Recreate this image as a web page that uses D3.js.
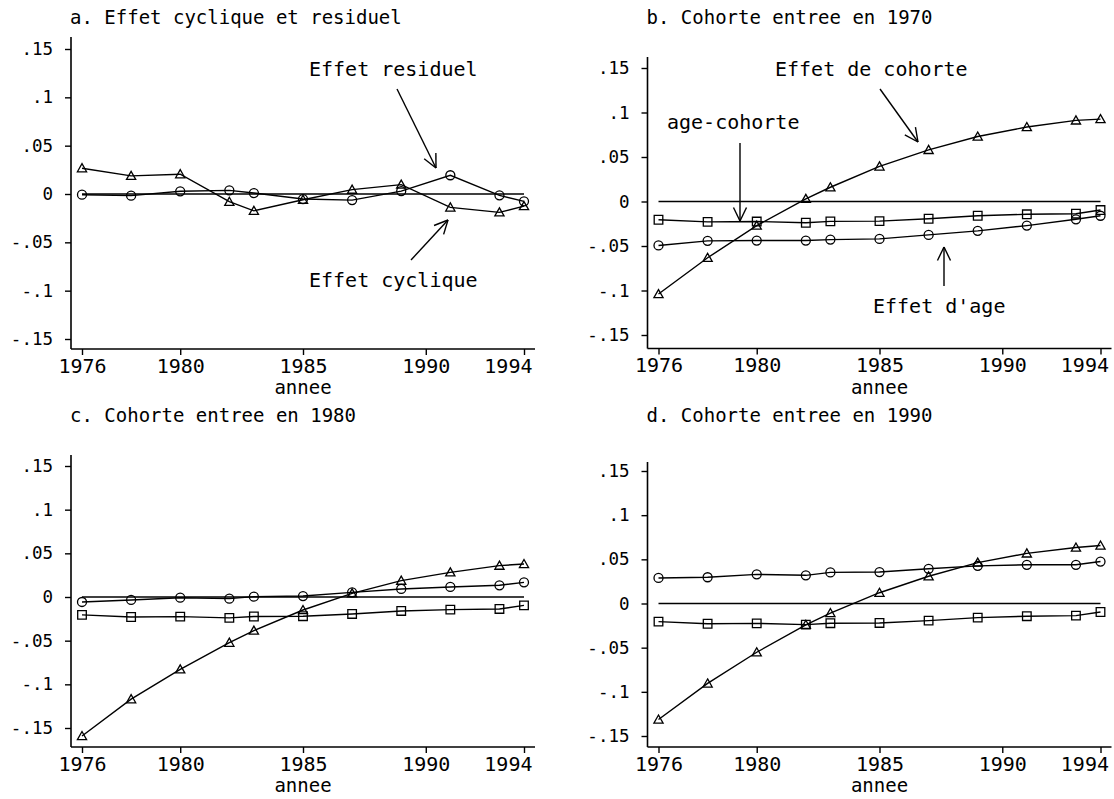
<!DOCTYPE html>
<html>
<head>
<meta charset="utf-8">
<script src="https://cdn.jsdelivr.net/npm/d3@7"></script>
<style>
  html, body { margin: 0; padding: 0; background: #fff; }
  svg { display: block; }
  text { font-family: "DejaVu Sans Mono", "Liberation Mono", monospace; fill: #000; }
</style>
</head>
<body>
<svg id="chart" width="1114" height="799"></svg>
<script>
// Survey years (x positions of every point)
const years = [1976, 1978, 1980, 1982, 1983, 1985, 1987, 1989, 1991, 1993, 1994];
const xTicks = [1976, 1980, 1985, 1990, 1994];
const yTicks = [-0.15, -0.1, -0.05, 0, 0.05, 0.1, 0.15];
const yTickLabels = ["-.15", "-.1", "-.05", "0", ".05", ".1", ".15"];

// a. cyclical and residual effects
const aCyclique = [0.0267, 0.0188, 0.0205, -0.008, -0.0174, -0.006, 0.0045, 0.0097, -0.0139, -0.019, -0.0125];
const aResiduel = [-0.0007, -0.0017, 0.0028, 0.0038, 0.001, -0.0052, -0.0063, 0.003, 0.0194, -0.0014, -0.0076];

// age-cohort interaction (same in b, c, d)
const ageCohorte = [-0.0205, -0.0229, -0.0225, -0.0239, -0.0223, -0.022, -0.0194, -0.016, -0.0144, -0.0137, -0.0096];

// b. cohort entering in 1970
const bCohorte = [-0.104, -0.0632, -0.0271, 0.003, 0.016, 0.0394, 0.058, 0.073, 0.0837, 0.0911, 0.0926];
const bAge = [-0.0494, -0.0442, -0.0439, -0.0439, -0.0428, -0.042, -0.0375, -0.033, -0.0271, -0.020, -0.016];

// c. cohort entering in 1980
const cCohorte = [-0.1592, -0.117, -0.0828, -0.0523, -0.0385, -0.0149, 0.0042, 0.0187, 0.0282, 0.0359, 0.0378];
const cAge = [-0.0057, -0.0034, -0.0008, -0.0019, 0.0004, 0.0011, 0.0053, 0.0092, 0.0115, 0.0134, 0.0168];

// d. cohort entering in 1990
const dCohorte = [-0.1313, -0.0905, -0.0552, -0.0241, -0.0108, 0.0122, 0.0308, 0.0463, 0.0567, 0.0634, 0.0656];
const dAge = [0.0289, 0.0297, 0.033, 0.0319, 0.0352, 0.0356, 0.0393, 0.0426, 0.0438, 0.0438, 0.0475];

const svg = d3.select("#chart");
svg.append("rect").attr("width", 1114).attr("height", 799).attr("fill", "#fff");

// Panel frames: axis position, plotting span and the pixel rows of +/-.15
const panels = [
  { title: "a. Effet cyclique et residuel", axisX: 71, x0: 82, x1: 524, xEnd: 535,
    top: 37, bottom: 349, yHi: 49, yLo: 339,
    series: [{ v: aCyclique, sym: "tri" }, { v: aResiduel, sym: "circ" }],
    notes: [
      { text: "Effet residuel", x: 309, y: 76, from: [397, 89], to: [436, 168] },
      { text: "Effet cyclique", x: 309, y: 287, from: [411, 260], to: [448, 220] }
    ] },
  { title: "b. Cohorte entree en 1970", axisX: 647.5, x0: 658.5, x1: 1100.5, xEnd: 1111.5,
    top: 57, bottom: 348.5, yHi: 68, yLo: 335,
    series: [{ v: bCohorte, sym: "tri" }, { v: ageCohorte, sym: "sq" }, { v: bAge, sym: "circ" }],
    notes: [
      { text: "Effet de cohorte", x: 775, y: 76, from: [880, 89], to: [918, 142] },
      { text: "age-cohorte", x: 667, y: 129, from: [740, 143], to: [740, 221] },
      { text: "Effet d'age", x: 873, y: 313, from: [944, 286], to: [944, 247] }
    ] },
  { title: "c. Cohorte entree en 1980", axisX: 71, x0: 82, x1: 524, xEnd: 535,
    top: 455, bottom: 747, yHi: 466, yLo: 728,
    series: [{ v: cCohorte, sym: "tri" }, { v: ageCohorte, sym: "sq" }, { v: cAge, sym: "circ" }],
    notes: [] },
  { title: "d. Cohorte entree en 1990", axisX: 647.5, x0: 658.5, x1: 1100.5, xEnd: 1111.5,
    top: 462, bottom: 747, yHi: 471, yLo: 736,
    series: [{ v: dCohorte, sym: "tri" }, { v: ageCohorte, sym: "sq" }, { v: dAge, sym: "circ" }],
    notes: [] }
];

const symbolPath = {
  circ: "M4.5,0A4.5,4.5 0 1,1 -4.5,0A4.5,4.5 0 1,1 4.5,0Z",
  tri: "M0,-4.5L4.6,3.6L-4.6,3.6Z",
  sq: "M-4.3,-4.3H4.3V4.3H-4.3Z"
};

const ink = "#000";

panels.forEach(p => {
  const g = svg.append("g");
  const x = d3.scaleLinear().domain([1976, 1994]).range([p.x0, p.x1]);
  const y = d3.scaleLinear().domain([-0.15, 0.15]).range([p.yLo, p.yHi]);

  // title
  g.append("text").attr("x", p.axisX - 1).attr("y", p.top < 100 ? 23.5 : 421.5)
    .attr("font-size", 19).text(p.title);

  // axis lines
  g.append("line").attr("x1", p.axisX).attr("x2", p.axisX).attr("y1", p.top).attr("y2", p.bottom)
    .attr("stroke", ink).attr("stroke-width", 1.6);
  g.append("line").attr("x1", p.axisX).attr("x2", p.xEnd).attr("y1", p.bottom).attr("y2", p.bottom)
    .attr("stroke", ink).attr("stroke-width", 1.6);

  // y axis
  const ya = g.append("g").attr("transform", `translate(${p.axisX},0)`)
    .call(d3.axisLeft(y).tickValues(yTicks).tickSize(6).tickPadding(12)
      .tickFormat((d, i) => yTickLabels[i]));
  ya.select(".domain").remove();
  ya.selectAll(".tick line").attr("stroke", ink).attr("stroke-width", 1.4);
  ya.selectAll(".tick text").attr("font-size", 17.5).attr("font-family", null).attr("fill", ink);

  // x axis; the last label is pulled inside the axis end
  const xa = g.append("g").attr("transform", `translate(0,${p.bottom})`)
    .call(d3.axisBottom(x).tickValues(xTicks).tickSize(6).tickFormat(d3.format("d")));
  xa.select(".domain").remove();
  xa.selectAll(".tick line").attr("stroke", ink).attr("stroke-width", 1.4);
  xa.selectAll(".tick text").attr("font-size", 20).attr("font-family", null).attr("fill", ink)
    .attr("dy", null).attr("y", 23.5)
    .filter(d => d === 1994)
    .attr("text-anchor", "end").attr("x", p.xEnd - 3 - x(1994));

  g.append("text").attr("x", (p.x0 + p.x1) / 2).attr("y", p.bottom + 45)
    .attr("text-anchor", "middle").attr("font-size", 19).text("annee");

  // zero reference line
  g.append("line").attr("x1", x(1976)).attr("x2", x(1994)).attr("y1", y(0)).attr("y2", y(0))
    .attr("stroke", ink).attr("stroke-width", 1.4);

  const line = d3.line().x((d, i) => x(years[i])).y(d => y(d));
  p.series.forEach(s => {
    g.append("path").attr("d", line(s.v)).attr("fill", "none")
      .attr("stroke", ink).attr("stroke-width", 1.4);
    g.selectAll(null).data(s.v).enter().append("path")
      .attr("transform", (d, i) => `translate(${x(years[i])},${y(d)})`)
      .attr("d", symbolPath[s.sym]).attr("fill", "none")
      .attr("stroke", ink).attr("stroke-width", 1.3);
  });

  // labelled arrows
  p.notes.forEach(n => {
    g.append("text").attr("x", n.x).attr("y", n.y).attr("font-size", 20).text(n.text);
    const [fx, fy] = n.from, [tx, ty] = n.to;
    g.append("line").attr("x1", fx).attr("y1", fy).attr("x2", tx).attr("y2", ty)
      .attr("stroke", ink).attr("stroke-width", 1.4);
    const ang = Math.atan2(ty - fy, tx - fx), len = 15, spread = 0.45;
    [ang + Math.PI - spread, ang + Math.PI + spread].forEach(a => {
      g.append("line").attr("x1", tx).attr("y1", ty)
        .attr("x2", tx + len * Math.cos(a)).attr("y2", ty + len * Math.sin(a))
        .attr("stroke", ink).attr("stroke-width", 1.4);
    });
  });
});
</script>
</body>
</html>
